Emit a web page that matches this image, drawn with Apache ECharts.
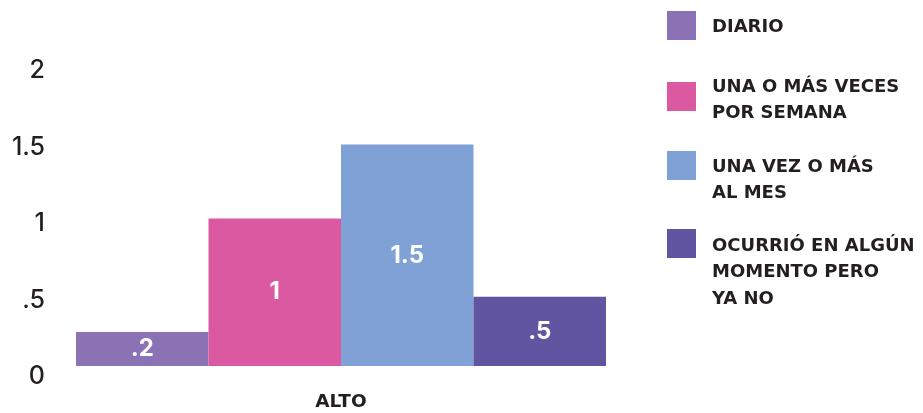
<!DOCTYPE html>
<html>
<head>
<meta charset="utf-8">
<script src="https://cdn.jsdelivr.net/npm/echarts@6/dist/echarts.min.js"></script>
<style>
html, body { margin: 0; padding: 0; background: #fff; }
#main { width: 923px; height: 413px; }
</style>
</head>
<body>
<div id="main"></div>
<script>
var categorias = ['ALTO'];
var nombres = ['DIARIO', 'UNA O MÁS VECES\nPOR SEMANA', 'UNA VEZ O MÁS\nAL MES', 'OCURRIÓ EN ALGÚN\nMOMENTO PERO\nYA NO'];
var valores = [0.23, 1, 1.5, 0.47];
var colores = ['#8a72b4', '#db59a0', '#80a1d5', '#6154a1'];
var ticksY = [0, 0.5, 1, 1.5, 2];

function corto(v) {
	// .5 en vez de 0.5
	var s = String(Math.round(v * 10) / 10);
	return s.replace(/^0\./, '.');
}

// leyendas: top de cada una y espacio arriba del texto (para alinear con el cuadro)
var leyTop = [11, 69, 138, 202.75];
var leyEspacio = [3, 7.5, 29.5, 58];

var myChart = echarts.init(document.getElementById('main'));

var series = [];
var legends = [];
for (var i = 0; i < nombres.length; i++) {
	series.push({
		name: nombres[i],
		type: 'bar',
		yAxisIndex: 1,
		data: [valores[i]],
		barGap: '0%',
		barCategoryGap: '0%',
		itemStyle: { color: colores[i] },
		label: {
			show: true,
			position: 'inside',
			color: '#fff',
			fontFamily: 'Inter',
			fontWeight: 700,
			fontSize: 24,
			formatter: function (p) { return corto(p.value); }
		}
	});
	var rich = {
		s: { lineHeight: leyEspacio[i], fontSize: 2 },
		t: {
			fontFamily: 'DejaVu Sans',
			fontWeight: 'bold',
			fontSize: 18,
			lineHeight: 26.5,
			color: '#231f20',
			padding: [0, 0, 0, 11]
		}
	};
	legends.push({
		data: [nombres[i]],
		left: 667,
		top: leyTop[i],
		padding: 0,
		orient: 'vertical',
		itemWidth: 29,
		itemHeight: 29,
		icon: 'rect',
		selectedMode: false,
		formatter: function (name) {
			return '{s| }\n' + name.split('\n').map(function (l) { return '{t|' + l + '}'; }).join('\n');
		},
		textStyle: { rich: rich }
	});
}

var option = {
	animation: false,
	legend: legends,
	grid: {
		left: 76,
		width: 530,
		top: 70.7,
		bottom: 36.3
	},
	xAxis: {
		type: 'category',
		data: categorias,
		axisLine: { show: false, onZero: false },
		axisTick: { show: false },
		axisLabel: {
			margin: 16,
			fontFamily: 'DejaVu Sans',
			fontWeight: 'bold',
			fontSize: 18.5,
			color: '#231f20'
		}
	},
	yAxis: [{
		type: 'value',
		min: ticksY[0],
		max: ticksY[ticksY.length - 1],
		interval: 0.5,
		splitLine: { show: false },
		axisLine: { show: false },
		axisTick: { show: false },
		axisLabel: {
			margin: 31,
			fontFamily: 'Inter',
			fontWeight: 500,
			fontSize: 25,
			color: '#231f20',
			formatter: corto
		}
	}, {
		// eje oculto para las barras (base un poco arriba del 0 rotulado)
		type: 'value',
		show: false,
		min: -0.072,
		max: 2,
		splitLine: { show: false }
	}],
	series: series
};
myChart.setOption(option);
</script>
</body>
</html>
